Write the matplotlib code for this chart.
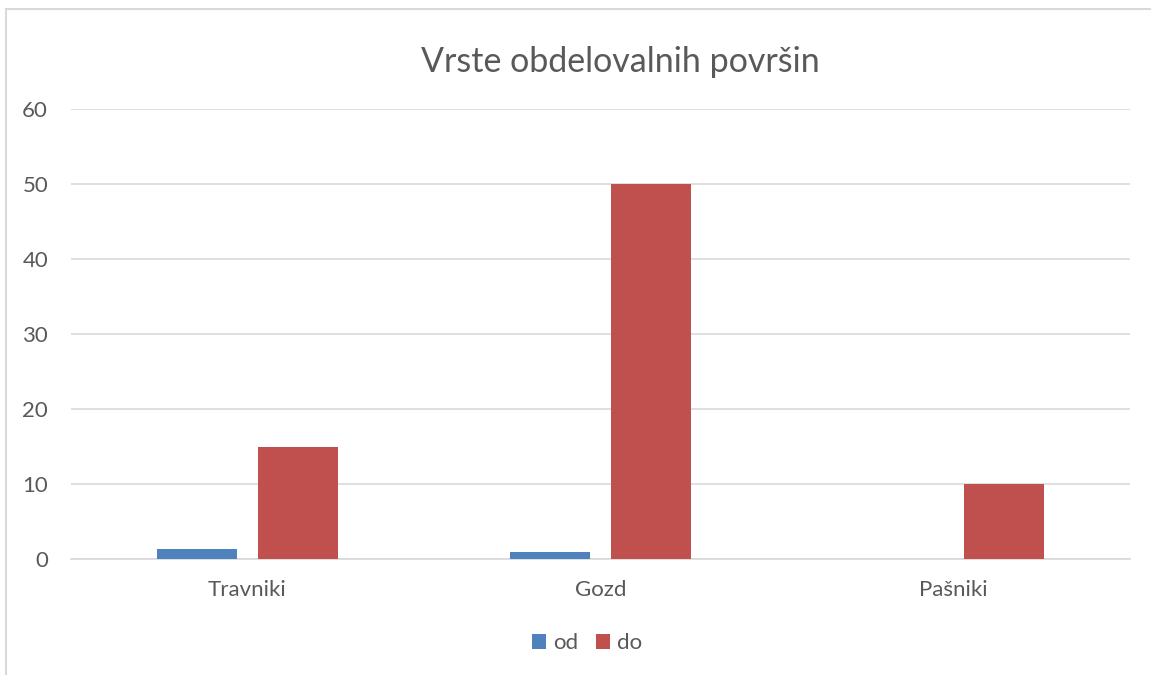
import numpy as np
import matplotlib.pyplot as plt
from matplotlib.patches import Rectangle

categories = ["Travniki", "Gozd", "Pašniki"]
od_values = [1.4, 1.0, 0]
do_values = [15, 50, 10]
y_ticks = [0, 10, 20, 30, 40, 50, 60]

plt.rcParams['font.family'] = ['Lato', 'DejaVu Sans']
text_color = '#595959'

fig = plt.figure(figsize=(11.51, 6.75), dpi=100)
ax = fig.add_axes([71/1151, 1 - 559/675, (1130 - 71)/1151, (559 - 109)/675])

x = np.arange(len(categories))
w = 0.227
off = 0.143
ax.bar(x - off, od_values, w, color='#4F81BD', label='od', zorder=3)
ax.bar(x + off, do_values, w, color='#C0504D', label='do', zorder=3)

ax.set_xlim(-0.5, 2.5)
ax.set_ylim(0, 60)
ax.set_yticks(y_ticks)
ax.set_xticks(x, categories)
ax.yaxis.grid(True, color='#D9D9D9', linewidth=1.2, zorder=0)
for s in ['top', 'right', 'left']:
    ax.spines[s].set_visible(False)
ax.spines['bottom'].set_color('#D9D9D9')
ax.spines['bottom'].set_linewidth(1.2)
ax.tick_params(axis='both', length=0, labelsize=16, colors=text_color)
ax.tick_params(axis='y', pad=16.5)
ax.tick_params(axis='x', pad=15)

fig.text(620/1151, 1 - 62/675, "Vrste obdelovalnih površin", ha='center', va='center',
         fontsize=24.5, color=text_color)

leg = ax.legend(loc='center', bbox_to_anchor=(587/1151, 1 - 643/675),
                bbox_transform=fig.transFigure, ncol=2, frameon=False,
                fontsize=16, handlelength=0.65, handleheight=0.65,
                handletextpad=0.3, columnspacing=0.8)
for t in leg.get_texts():
    t.set_color(text_color)

fig.patches.append(Rectangle((6/1151, -0.1), 1.2, 1.1 - 9/675, transform=fig.transFigure,
                             fill=False, edgecolor='#D9D9D9', linewidth=1.5))

fig.savefig('out.png', dpi=100)
